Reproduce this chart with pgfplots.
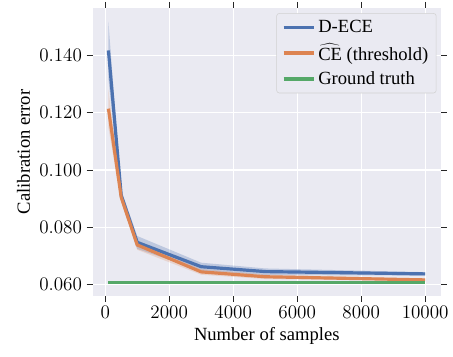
\documentclass[border=0pt]{standalone}
\usepackage{pgfplots}
\pgfplotsset{compat=1.18}
\usepgfplotslibrary{fillbetween}
\usepackage{fontspec}
\setmainfont{Liberation Serif}
\definecolor{sbblue}{HTML}{4C72B0}
\definecolor{sborange}{HTML}{DD8452}
\definecolor{sbgreen}{HTML}{55A868}
\definecolor{sbbg}{HTML}{EAEAF2}
\definecolor{tickc}{HTML}{262626}
\newcommand{\fs}{\fontsize{14}{16.5}\selectfont}
\begin{document}
\begin{tikzpicture}
\begin{axis}[
  scale only axis,
  width=262.5pt, height=216.75pt,
  xmin=-395, xmax=10495,
  ymin=0.0562, ymax=0.1565,
  axis background/.style={fill=sbbg},
  axis line style={draw=none},
  grid=major,
  major grid style={white, line width=0.9pt},
  xtick={0,2000,4000,6000,8000,10000},
  ytick={0.06,0.08,0.10,0.12,0.14},
  tick align=outside,
  tick pos=both,
  major tick length=4.5pt,
  tick style={tickc, line width=0.75pt},
  xticklabel style={/pgf/number format/.cd, set thousands separator={}, fixed},
  yticklabel style={/pgf/number format/.cd, fixed, fixed zerofill, precision=3},
  scaled y ticks=false,
  scaled x ticks=false,
  tick label style={font=\fs},
  label style={font=\fs},
  xlabel={Number of samples},
  ylabel={Calibration error},
  legend style={at={(0.987,0.982)}, anchor=north east, fill=sbbg, draw=black!18, rounded corners=2pt, font=\fs, row sep=3pt, inner xsep=4pt, inner ysep=3pt},
  legend cell align=left,
  legend image code/.code={\draw[#1] (0pt,0pt) -- (23pt,0pt);},
  after end axis/.code={\path (axis description cs:-0.2657,-0.2111) rectangle (axis description cs:1.0286,1.0277);},
]
% D-ECE band
\addplot[draw=none, name path=bu, forget plot] coordinates {(100,0.1517) (500,0.0930) (1000,0.0770) (3000,0.0677) (5000,0.0657) (10000,0.0644)};
\addplot[draw=none, name path=bl, forget plot] coordinates {(100,0.1317) (500,0.0893) (1000,0.0725) (3000,0.0649) (5000,0.0634) (10000,0.0632)};
\addplot[sbblue, fill opacity=0.28, forget plot] fill between[of=bu and bl];
% CE band
\addplot[draw=none, name path=ou, forget plot] coordinates {(100,0.1280) (500,0.0920) (1000,0.0752) (3000,0.0655) (5000,0.0636) (10000,0.0621)};
\addplot[draw=none, name path=ol, forget plot] coordinates {(100,0.1148) (500,0.0889) (1000,0.0722) (3000,0.0635) (5000,0.0620) (10000,0.0613)};
\addplot[sborange, fill opacity=0.22, forget plot] fill between[of=ou and ol];
% means
\addplot[sbblue, line width=2.4pt] coordinates {(100,0.1417) (500,0.0912) (1000,0.0748) (3000,0.0663) (5000,0.0646) (10000,0.0638)};
\addlegendentry{D-ECE}
\addplot[sborange, line width=2.4pt] coordinates {(100,0.1214) (500,0.0905) (1000,0.0739) (3000,0.0645) (5000,0.0628) (10000,0.0617)};
\addlegendentry{$\widehat{\mbox{CE}}$ (threshold)}
\addplot[sbgreen, line width=2.4pt] coordinates {(100,0.0608) (500,0.0608) (1000,0.0608) (3000,0.0608) (5000,0.0608) (10000,0.0608)};
\addlegendentry{Ground truth}
\end{axis}
\end{tikzpicture}
\end{document}
